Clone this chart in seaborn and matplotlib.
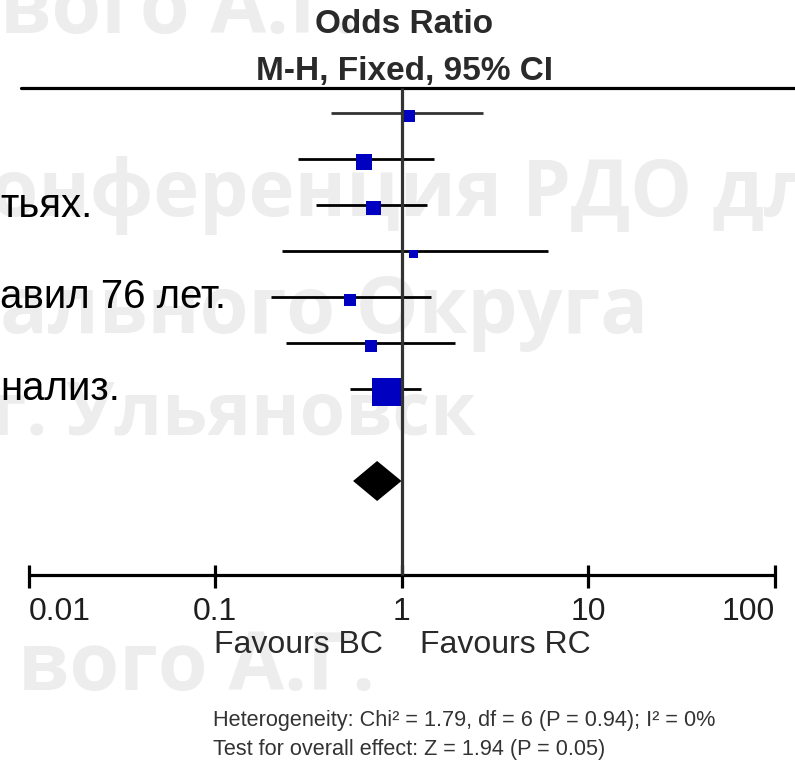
import numpy as np
import pandas as pd
import matplotlib
matplotlib.use("Agg")
import matplotlib.pyplot as plt
from matplotlib import font_manager
import seaborn as sns

# Per-study odds ratios with 95% CI (M-H, fixed effect) and weights (%)
odds_ratio = [1.10, 0.63, 0.71, 1.16, 0.53, 0.69, 0.83]
ci_lower = [0.42, 0.28, 0.35, 0.23, 0.20, 0.24, 0.53]
ci_upper = [2.72, 1.49, 1.37, 6.08, 1.44, 1.94, 1.27]
weight_pct = [8.0, 13.6, 11.9, 4.2, 8.0, 8.0, 46.3]

# Pooled estimate
pooled_or = 0.74
pooled_lower = 0.55
pooled_upper = 1.00

tick_values = [0.01, 0.1, 1, 10, 100]
tick_labels = ["0.01", "0.1", "1", "10", "100"]

header_lines = ["Odds Ratio", "M-H, Fixed, 95% CI"]
favours = ["Favours BC", "Favours RC"]
stats_lines = [
    "Heterogeneity: Chi\u00b2 = 1.79, df = 6 (P = 0.94); I\u00b2 = 0%",
    "Test for overall effect: Z = 1.94 (P = 0.05)",
]
slide_text = ["тьях.", "авил 76 лет.", "нализ."]
watermark = ["вого А.Г.", "Конференция РДО для", "ального Округа",
             "г. Ульяновск", "вого А.Г."]

sns.set_theme(style="white")
plt.rcParams["font.family"] = ["Liberation Sans", "DejaVu Sans"]

installed = {f.name for f in font_manager.fontManager.ttflist}
if "Liberation Sans Narrow" in installed:
    body_family, body_size = ["Liberation Sans Narrow", "DejaVu Sans"], 35
else:
    body_family, body_size = ["Liberation Sans", "DejaVu Sans"], 29

W, H = 795, 764
fig = plt.figure(figsize=(W / 100, H / 100), dpi=100)
ax = fig.add_axes([0, 0, 1, 1])
ax.patch.set_alpha(0)


def px(x):
    return x / W


def py(y):
    return 1 - y / H


# Log odds-ratio scale: one decade = 186.5 px, OR = 1 at x = 401.5 px
dec_px, one_px = 186.5, 401.5
row_px, row0_px = 46.0, 113.0
ax.set_xscale("log")
xlim = (10 ** (-one_px / dec_px), 10 ** ((W - one_px) / dec_px))

rows = np.arange(len(odds_ratio))
pooled_row = 8.0

# Watermark lettering behind everything: (left px, baseline px, size)
wm_pos = [(0, 33, 58), (-62, 216, 56), (0, 333, 57), (-9, 435, 53), (18, 690, 58)]
for txt, (x, y, s) in zip(watermark, wm_pos):
    fig.text(px(x), py(y), txt, ha="left", va="baseline", fontsize=s,
             fontweight="bold", color="#ededed", zorder=-5,
             family=["Open Sans", "DejaVu Sans"])

# Fragments of slide body text
slide_pos = [216.7, 308, 400]
for txt, y in zip(slide_text, slide_pos):
    fig.text(px(0), py(y), txt, ha="left", va="baseline", fontsize=body_size,
             color="black", zorder=-1, family=body_family)

# Confidence intervals
ci_colors = ["#333333"] + ["black"] * (len(rows) - 1)
ax.hlines(rows, ci_lower, ci_upper, colors=ci_colors, lw=2.0, zorder=2)

# Weighted squares (area proportional to weight)
df = pd.DataFrame({"OR": odds_ratio, "row": rows + 0.065, "w": weight_pct})
k = 9.4
sns.scatterplot(data=df, x="OR", y="row", size="w",
                sizes=(k * min(weight_pct), k * max(weight_pct)),
                marker="s", color="#0000c0", linewidth=0, legend=False,
                ax=ax, zorder=3)

# Pooled diamond
dh = 0.435
ax.fill([pooled_lower, pooled_or, pooled_upper, pooled_or],
        [pooled_row, pooled_row - dh, pooled_row, pooled_row + dh],
        color="black", lw=0, zorder=3)

# Line of no effect, header rule, bottom axis
top_row = -0.537
axis_row = 10.04
ax.vlines(1, top_row, axis_row, colors="#333333", lw=2.3, zorder=4)
ax.axhline(top_row, xmin=21 / W, xmax=1, color="black", lw=2.3, zorder=2)
ax.hlines(axis_row, tick_values[0], tick_values[-1], colors="black", lw=2.3)
ax.vlines(tick_values, axis_row - 0.21, axis_row + 0.29, colors="black", lw=2.3)
for i, (v, lab) in enumerate(zip(tick_values, tick_labels)):
    ha = "left" if i == 0 else ("right" if i == len(tick_values) - 1 else "center")
    ax.text(v, axis_row + 0.98, lab, ha=ha, va="baseline",
            fontsize=23, color="#1e1e1e")

ax.set_xlim(*xlim)
ax.set_ylim((H - row0_px) / row_px, -row0_px / row_px)
ax.axis("off")

# Column header
fig.text(px(404), py(33), header_lines[0], ha="center", va="baseline",
         fontsize=24, fontweight="bold", color="#2a2a2a")
fig.text(px(404), py(80), header_lines[1], ha="center", va="baseline",
         fontsize=24, fontweight="bold", color="#2a2a2a")

# Direction labels
fig.text(px(383), py(653), favours[0], ha="right", va="baseline",
         fontsize=23, color="#2a2a2a")
fig.text(px(420), py(653), favours[1], ha="left", va="baseline",
         fontsize=23, color="#2a2a2a")

# Summary statistics
fig.text(px(213), py(726), stats_lines[0], ha="left", va="baseline",
         fontsize=15.6, color="#333333")
fig.text(px(213), py(755), stats_lines[1], ha="left", va="baseline",
         fontsize=15.6, color="#333333")

fig.savefig("out.png", dpi=100)
